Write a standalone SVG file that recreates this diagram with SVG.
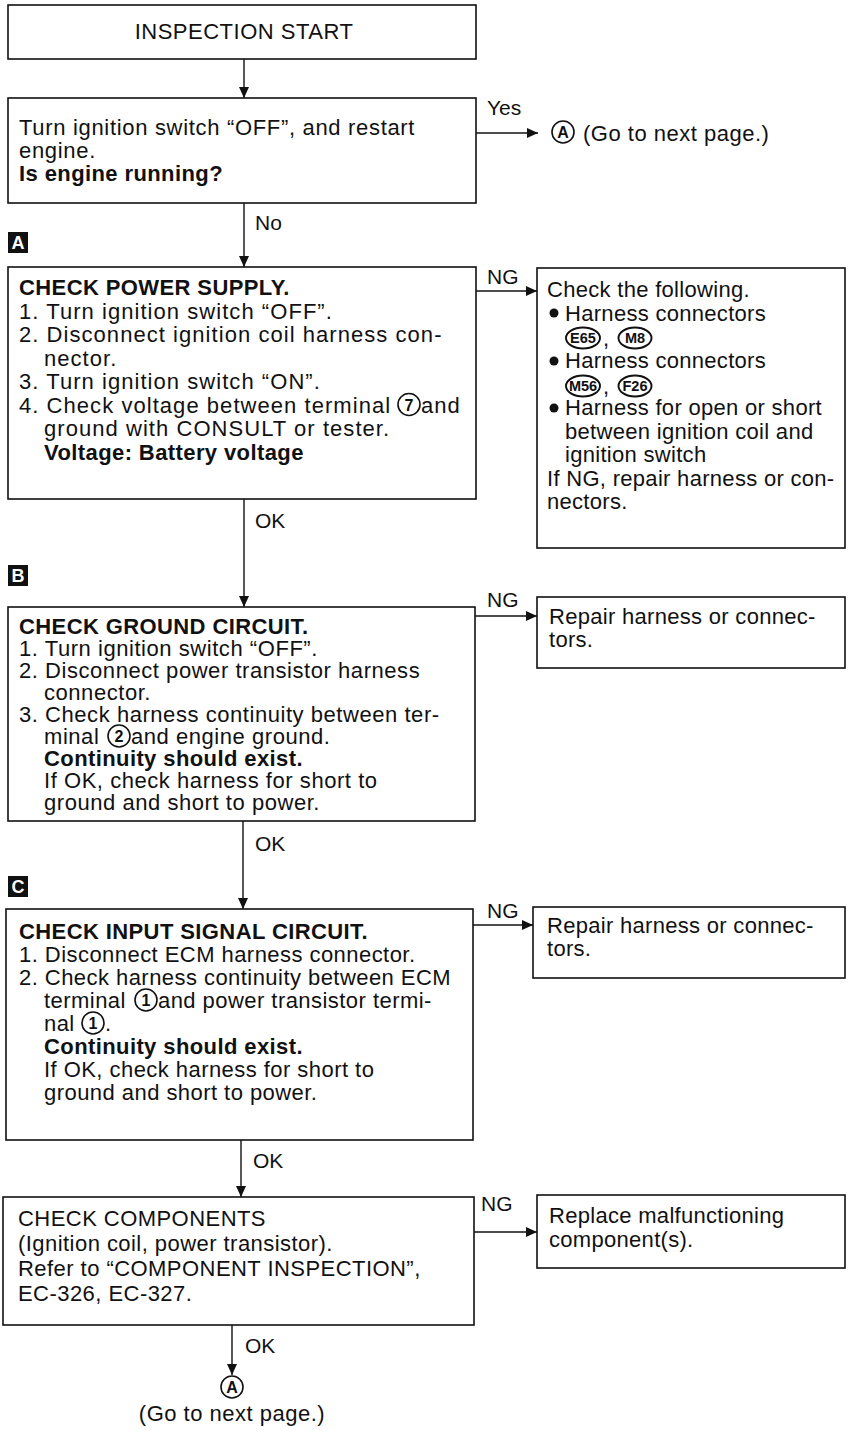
<svg xmlns="http://www.w3.org/2000/svg" width="853" height="1431" viewBox="0 0 853 1431">
<style>
text{font-family:"Liberation Sans",Arial,Helvetica,sans-serif;font-size:22px;fill:#111}
.b{font-weight:bold;letter-spacing:0.4px}
.box{fill:#fff;stroke:#111;stroke-width:1.6}
.conn{stroke:#111;stroke-width:1.4;fill:none}
.mk{fill:#111}
.mkt{fill:#fff;font-size:18px;font-weight:bold;text-anchor:middle}
.circ{fill:none;stroke:#111;stroke-width:1.6}
.ovl{fill:none;stroke:#111;stroke-width:1.9}
.cn{font-size:16px;font-weight:bold;text-anchor:middle;letter-spacing:0}
.ov{font-size:14.5px;font-weight:bold;text-anchor:middle;letter-spacing:0}
.lbl{font-size:21px}
.s2{letter-spacing:0.68px}
.sa{letter-spacing:1.05px}
.sb{letter-spacing:0.55px}
.sc{letter-spacing:0.45px}
.sd{letter-spacing:0.45px}
.sr{letter-spacing:0.3px}
.ss{letter-spacing:0.5px}
</style>
<defs>
<marker id="arr" markerWidth="12" markerHeight="10" refX="11" refY="5" orient="auto" markerUnits="userSpaceOnUse">
<path d="M0,0 L11,5 L0,10 Z" fill="#111"/>
</marker>
</defs>
<rect width="853" height="1431" fill="#fff"/>

<g id="connectors">
<line class="conn" x1="244" y1="59" x2="244" y2="98" marker-end="url(#arr)"/>
<line class="conn" x1="476" y1="133" x2="538" y2="133" marker-end="url(#arr)"/>
<text class="lbl" x="487" y="115">Yes</text>
<line class="conn" x1="244" y1="203" x2="244" y2="267" marker-end="url(#arr)"/>
<text class="lbl" x="255" y="230">No</text>
<line class="conn" x1="476" y1="291" x2="537" y2="291" marker-end="url(#arr)"/>
<text class="lbl" x="487" y="284">NG</text>
<line class="conn" x1="244" y1="499" x2="244" y2="607" marker-end="url(#arr)"/>
<text class="lbl" x="255" y="528">OK</text>
<line class="conn" x1="475" y1="616" x2="537" y2="616" marker-end="url(#arr)"/>
<text class="lbl" x="487" y="607">NG</text>
<line class="conn" x1="243" y1="821" x2="243" y2="909" marker-end="url(#arr)"/>
<text class="lbl" x="255" y="851">OK</text>
<line class="conn" x1="473" y1="925" x2="533" y2="925" marker-end="url(#arr)"/>
<text class="lbl" x="487" y="918">NG</text>
<line class="conn" x1="241" y1="1140" x2="241" y2="1197" marker-end="url(#arr)"/>
<text class="lbl" x="253" y="1168">OK</text>
<line class="conn" x1="474" y1="1232" x2="537" y2="1232" marker-end="url(#arr)"/>
<text class="lbl" x="481" y="1211">NG</text>
<line class="conn" x1="232" y1="1325" x2="232" y2="1375" marker-end="url(#arr)"/>
<text class="lbl" x="245" y="1353">OK</text>
</g>

<g id="start">
<rect class="box" x="8" y="5" width="468" height="54"/>
<text class="ss" x="244" y="39" text-anchor="middle">INSPECTION START</text>
</g>

<g id="restart">
<rect class="box" x="8" y="98" width="468" height="105"/>
<text class="s2" x="19" y="135">Turn ignition switch “OFF”, and restart</text>
<text class="s2" x="19" y="158">engine.</text>
<text class="b" x="19" y="181">Is engine running?</text>
</g>

<g id="goto-a-top">
<circle class="circ" cx="563" cy="132" r="11"/>
<text class="cn" x="563" y="138">A</text>
<text class="ss" x="583" y="141">(Go to next page.)</text>
</g>

<g id="marker-a">
<rect class="mk" x="8" y="232" width="20" height="21"/>
<text class="mkt" x="18" y="249">A</text>
</g>

<g id="power-supply">
<rect class="box" x="8" y="267" width="468" height="232"/>
<text class="b" x="19" y="295">CHECK POWER SUPPLY.</text>
<text class="sa" x="19" y="318.5">1. Turn ignition switch “OFF”.</text>
<text class="sa" x="19" y="342">2. Disconnect ignition coil harness con-</text>
<text class="sa" x="44" y="365.5">nector.</text>
<text class="sa" x="19" y="389">3. Turn ignition switch “ON”.</text>
<text class="sa" x="19" y="412.5">4. Check voltage between terminal</text>
<circle class="circ" cx="409" cy="404.5" r="11"/>
<text class="cn" x="409" y="410.5">7</text>
<text class="sa" x="421" y="412.5">and</text>
<text class="sa" x="44" y="436">ground with CONSULT or tester.</text>
<text class="b" x="44" y="459.5">Voltage: Battery voltage</text>
</g>

<g id="check-following">
<rect class="box" x="537" y="268" width="308" height="280"/>
<text class="sr" x="547" y="297">Check the following.</text>
<circle class="mk" cx="554" cy="313" r="4.5"/>
<text class="sr" x="565" y="320.5">Harness connectors</text>
<ellipse class="ovl" cx="583" cy="338" rx="17" ry="10.5"/>
<text class="ov" x="583" y="343">E65</text>
<text x="603" y="346">,</text>
<ellipse class="ovl" cx="635" cy="338" rx="16.5" ry="10.5"/>
<text class="ov" x="635" y="343">M8</text>
<circle class="mk" cx="554" cy="361" r="4.5"/>
<text class="sr" x="565" y="368">Harness connectors</text>
<ellipse class="ovl" cx="583" cy="386" rx="17" ry="10.5"/>
<text class="ov" x="583" y="391">M56</text>
<text x="603" y="394">,</text>
<ellipse class="ovl" cx="635" cy="386" rx="16.5" ry="10.5"/>
<text class="ov" x="635" y="391">F26</text>
<circle class="mk" cx="554" cy="408" r="4.5"/>
<text class="sr" x="565" y="415">Harness for open or short</text>
<text class="sr" x="565" y="438.5">between ignition coil and</text>
<text class="sr" x="565" y="462">ignition switch</text>
<text class="sr" x="547" y="485.5">If NG, repair harness or con-</text>
<text class="sr" x="547" y="509">nectors.</text>
</g>

<g id="marker-b">
<rect class="mk" x="8" y="565" width="20" height="21"/>
<text class="mkt" x="18" y="582">B</text>
</g>

<g id="ground-circuit">
<rect class="box" x="8" y="607" width="467" height="214"/>
<text class="b" x="19" y="634">CHECK GROUND CIRCUIT.</text>
<text class="sb" x="19" y="656">1. Turn ignition switch “OFF”.</text>
<text class="sb" x="19" y="678">2. Disconnect power transistor harness</text>
<text class="sb" x="44" y="700">connector.</text>
<text class="sb" x="19" y="722">3. Check harness continuity between ter-</text>
<text class="sb" x="44" y="744">minal</text>
<circle class="circ" cx="119" cy="736" r="11"/>
<text class="cn" x="119" y="742">2</text>
<text class="sb" x="131" y="744">and engine ground.</text>
<text class="b" x="44" y="766">Continuity should exist.</text>
<text class="sb" x="44" y="788">If OK, check harness for short to</text>
<text class="sb" x="44" y="810">ground and short to power.</text>
</g>

<g id="repair-b">
<rect class="box" x="537" y="597" width="308" height="71"/>
<text class="sr" x="549" y="624">Repair harness or connec-</text>
<text class="sr" x="549" y="647">tors.</text>
</g>

<g id="marker-c">
<rect class="mk" x="8" y="876" width="20" height="21"/>
<text class="mkt" x="18" y="893">C</text>
</g>

<g id="input-signal">
<rect class="box" x="6" y="909" width="467" height="231"/>
<text class="b" x="19" y="939">CHECK INPUT SIGNAL CIRCUIT.</text>
<text class="sc" x="19" y="962">1. Disconnect ECM harness connector.</text>
<text class="sc" x="19" y="985">2. Check harness continuity between ECM</text>
<text class="sc" x="44" y="1008">terminal</text>
<circle class="circ" cx="146" cy="1000" r="11"/>
<text class="cn" x="146" y="1006">1</text>
<text class="sc" x="158" y="1008">and power transistor termi-</text>
<text class="sc" x="44" y="1031">nal</text>
<circle class="circ" cx="93" cy="1023" r="11"/>
<text class="cn" x="93" y="1029">1</text>
<text class="sc" x="105" y="1031">.</text>
<text class="b" x="44" y="1054">Continuity should exist.</text>
<text class="sc" x="44" y="1077">If OK, check harness for short to</text>
<text class="sc" x="44" y="1100">ground and short to power.</text>
</g>

<g id="repair-c">
<rect class="box" x="533" y="907" width="312" height="71"/>
<text class="sr" x="547" y="933">Repair harness or connec-</text>
<text class="sr" x="547" y="956">tors.</text>
</g>

<g id="components">
<rect class="box" x="3" y="1197" width="471" height="128"/>
<text class="sd" x="18" y="1226">CHECK COMPONENTS</text>
<text class="sd" x="18" y="1251">(Ignition coil, power transistor).</text>
<text class="sd" x="18" y="1276">Refer to “COMPONENT INSPECTION”,</text>
<text class="sd" x="18" y="1301">EC-326, EC-327.</text>
</g>

<g id="replace">
<rect class="box" x="537" y="1195" width="308" height="73"/>
<text class="sr" x="549" y="1223">Replace malfunctioning</text>
<text class="sr" x="549" y="1247">component(s).</text>
</g>

<g id="goto-a-bottom">
<circle class="circ" cx="232" cy="1387" r="11"/>
<text class="cn" x="232" y="1393">A</text>
<text class="ss" x="232" y="1421" text-anchor="middle">(Go to next page.)</text>
</g>
</svg>
